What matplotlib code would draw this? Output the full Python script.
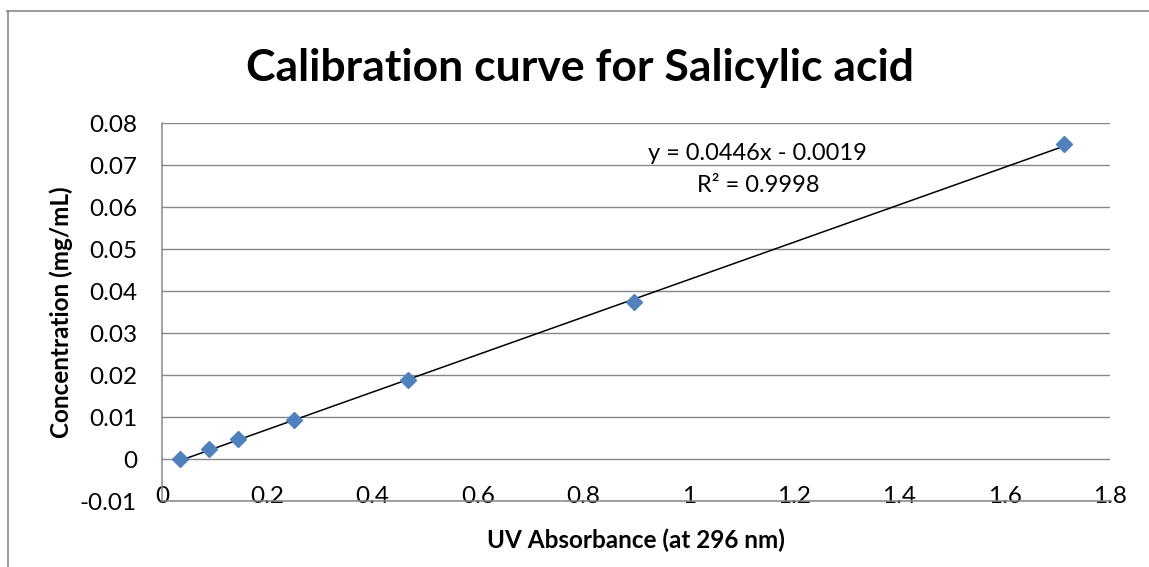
import matplotlib.pyplot as plt
from matplotlib.lines import Line2D
import numpy as np

# Calibration data
absorbance = [0.034, 0.090, 0.144, 0.251, 0.468, 0.896, 1.712]
concentration = [0.0, 0.0023, 0.0047, 0.0094, 0.0188, 0.0375, 0.075]

# Excel trendline as printed on the chart
slope = 0.0446
intercept = -0.0019
r_squared = 0.9998

x_ticks = [0, 0.2, 0.4, 0.6, 0.8, 1.0, 1.2, 1.4, 1.6, 1.8]
x_tick_labels = ['0', '0.2', '0.4', '0.6', '0.8', '1', '1.2', '1.4', '1.6', '1.8']
y_ticks = [-0.01, 0, 0.01, 0.02, 0.03, 0.04, 0.05, 0.06, 0.07, 0.08]
y_tick_labels = ['-0.01', '0', '0.01', '0.02', '0.03', '0.04', '0.05', '0.06', '0.07', '0.08']

plt.rcParams['font.family'] = ['Lato', 'DejaVu Sans']
grid_gray = '#878787'

W, H = 1149, 567
fig = plt.figure(figsize=(W / 100, H / 100), dpi=100)
ax = fig.add_axes([162 / W, 1 - 501 / H, (1110 - 162) / W, (501 - 123) / H])

# Trendline over the data range
line_x = np.array([min(absorbance), max(absorbance)])
ax.plot(line_x, slope * line_x + intercept, color='black', lw=1.1, zorder=3)

# Data points
ax.plot(absorbance, concentration, linestyle='none', marker='D', markersize=8,
        color='#4F81BD', zorder=4)

ax.set_xlim(0, 1.8)
ax.set_ylim(-0.01, 0.08)
ax.set_xticks(x_ticks)
ax.set_xticklabels(x_tick_labels)
ax.set_yticks(y_ticks)
ax.set_yticklabels(y_tick_labels)
ax.tick_params(axis='both', length=0, labelsize=17.5)
ax.tick_params(axis='x', pad=-11)
ax.tick_params(axis='y', pad=18)

ax.yaxis.grid(True, color=grid_gray, lw=1.0)
ax.set_axisbelow(True)
for side in ['top', 'right']:
    ax.spines[side].set_visible(False)
for side in ['left', 'bottom']:
    ax.spines[side].set_color(grid_gray)
    ax.spines[side].set_linewidth(1.1)

ax.set_xlabel('UV Absorbance (at 296 nm)', fontsize=17.5, fontweight='bold', labelpad=16)
ax.set_ylabel('Concentration (mg/mL)', fontsize=17.5, fontweight='bold', labelpad=5)

fig.text(580 / W, 1 - 68 / H, 'Calibration curve for Salicylic acid', fontsize=32,
         fontweight='bold', ha='center', va='center')

# Trendline equation label
ax.text(757, H - 153, 'y = %.4fx - %.4f' % (slope, -intercept), transform=None,
        fontsize=17, ha='center', va='center')
ax.text(758, H - 186, 'R² = %.4f' % r_squared, transform=None,
        fontsize=17, ha='center', va='center')

# Chart area border (only top and left visible)
fig.add_artist(Line2D([7 / W, 1], [1 - 11 / H, 1 - 11 / H], color=grid_gray, lw=1.2))
fig.add_artist(Line2D([7.5 / W, 7.5 / W], [0, 1 - 11 / H], color=grid_gray, lw=1.2))

fig.savefig('out.png', dpi=100)
